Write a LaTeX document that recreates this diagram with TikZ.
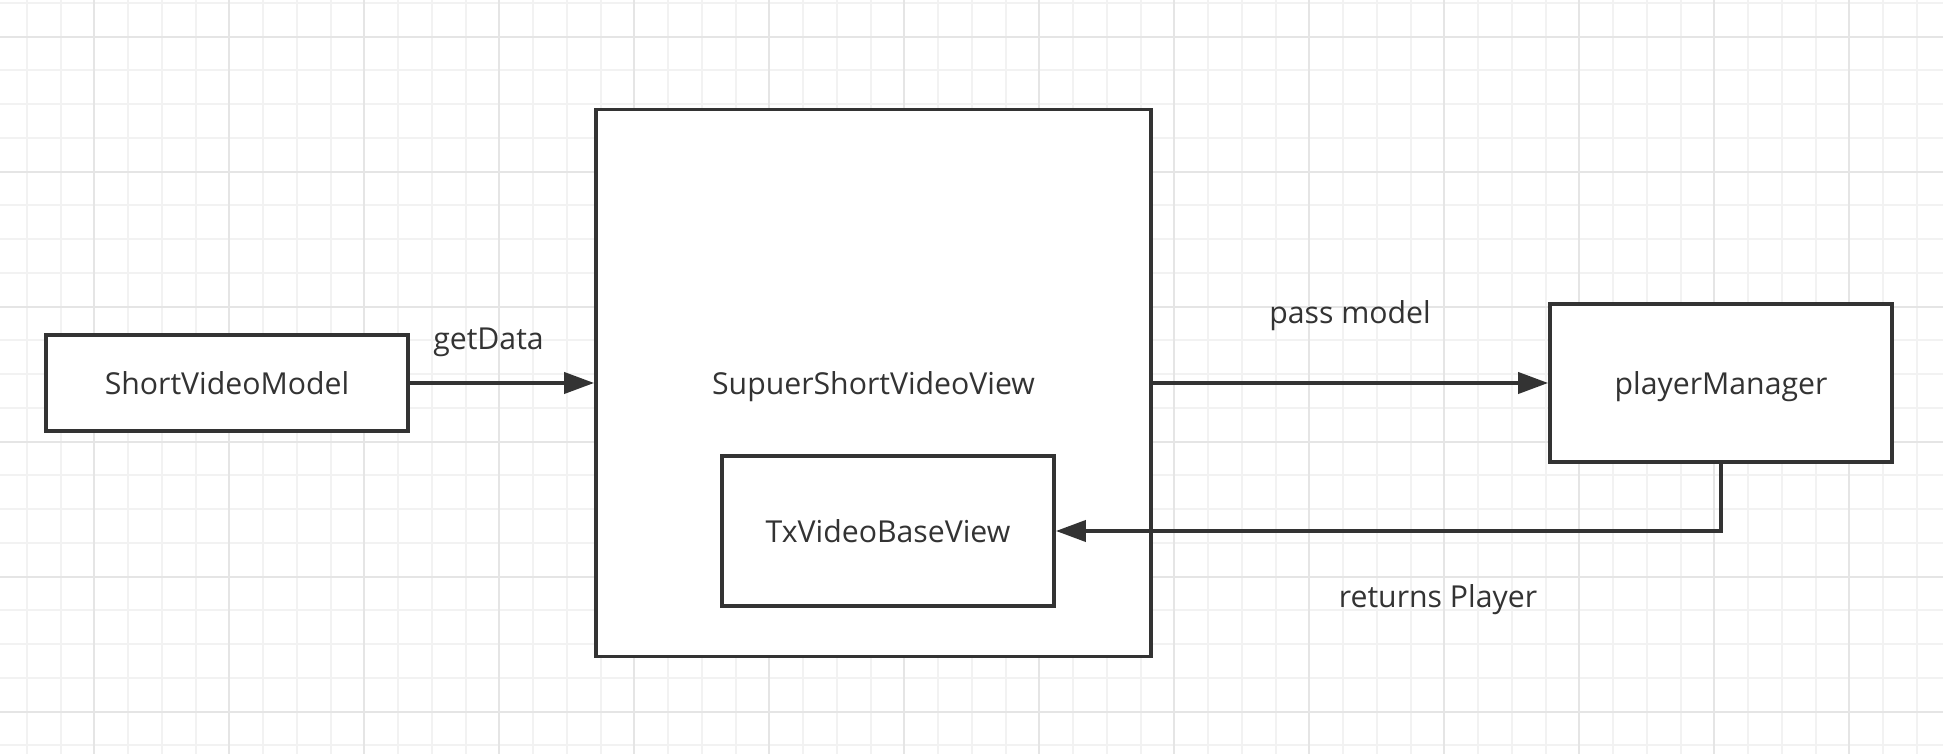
\documentclass[tikz,border=0pt]{standalone}
\usepackage{fontspec}
\setmainfont{Open Sans}
\usetikzlibrary{arrows.meta}
\definecolor{ink}{RGB}{51,51,51}
\definecolor{gridminor}{RGB}{242,242,242}
\definecolor{gridmajor}{RGB}{229,229,229}
\tikzset{
  box/.style={draw=ink, line width=1.1pt, fill=white, text=ink, text depth=0pt, font=\fontsize{8.6}{10}\selectfont},
  lbl/.style={text=ink, font=\fontsize{8.6}{10}\selectfont},
  link/.style={draw=ink, line width=1pt, -{Triangle[length=8.5pt, width=6pt]}},
}
\begin{document}
\begin{tikzpicture}
  % 배경과 격자
  \useasboundingbox (0,0) rectangle (19.43,7.54);
  \fill[white] (0,0) rectangle (19.43,7.54);
  \foreach \i in {0,...,56}
    \draw[gridminor, line width=0.55pt] ({0.268+0.3375*\i},0) -- ++(0,7.54);
  \foreach \j in {-1,...,21}
    \draw[gridminor, line width=0.55pt] (0,{7.173-0.3375*\j}) -- ++(19.43,0);
  \foreach \i in {0,...,13}
    \draw[gridmajor, line width=0.55pt] ({0.943+1.35*\i},0) -- ++(0,7.54);
  \foreach \j in {0,...,5}
    \draw[gridmajor, line width=0.55pt] (0,{7.173-1.35*\j}) -- ++(19.43,0);
  % 상자
  \node[box, minimum width=3.62cm, minimum height=0.96cm] (model) at (2.27,3.71) {ShortVideoModel};
  \node[box, minimum width=5.55cm, minimum height=5.47cm] (view) at (8.735,3.71) {SupuerShortVideoView};
  \node[box, minimum width=3.32cm, minimum height=1.50cm] (txview) at (8.88,2.23) {TxVideoBaseView};
  \node[box, minimum width=3.42cm, minimum height=1.58cm] (manager) at (17.21,3.71) {playerManager};
  % 화살표
  \draw[link] (model.east) -- (view.west);
  \draw[link] (view.east) -- (manager.west);
  \draw[link] (manager.south) |- (txview.east);
  % 라벨
  \node[lbl] (getdata) at (4.885,4.12) {getData};
  \node[lbl] (passmodel) at (13.50,4.385) {pass model};
  \node[lbl] (returns) at (14.38,1.54) {returns Player};
\end{tikzpicture}
\end{document}
